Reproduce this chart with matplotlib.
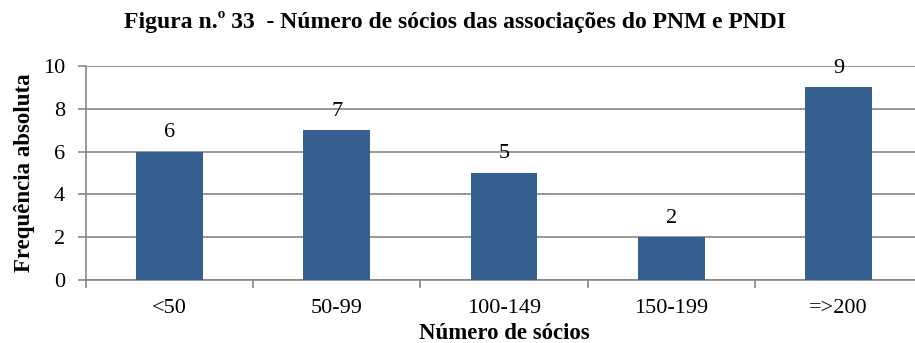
import numpy as np
import matplotlib.pyplot as plt
from matplotlib.ticker import FixedLocator, NullFormatter

categorias = ['<50', '50-99', '100-149', '150-199', '=>200']
frequencias = [6, 7, 5, 2, 9]
y_ticks = [0, 2, 4, 6, 8, 10]

plt.rcParams['font.family'] = 'serif'
plt.rcParams['font.serif'] = ['Liberation Serif', 'DejaVu Serif']

cor_barra = '#376092'
cor_grelha = '#868686'

fig = plt.figure(figsize=(9.15, 3.43), dpi=100)
ax = fig.add_axes([86 / 915, 1 - 280 / 343, 836 / 915, 214 / 343])

x = np.arange(len(categorias))
ax.bar(x, frequencias, width=0.4, color=cor_barra, zorder=3)

for xi, v in zip(x, frequencias):
    ax.text(xi, v + 0.45, str(v), ha='center', va='bottom', fontsize=16)

ax.set_xlim(-0.5, len(categorias) - 0.5)
ax.set_ylim(0, 10)
ax.set_yticks(y_ticks)
ax.yaxis.grid(True, color=cor_grelha, linewidth=1.2, zorder=0)
ax.tick_params(axis='y', labelsize=16, length=6, color=cor_grelha, width=1.2, pad=9)

# marcas do eixo x entre as categorias, rótulos no centro
ax.set_xticks(x)
ax.set_xticklabels(categorias, fontsize=16)
ax.tick_params(axis='x', which='major', length=0, pad=14)
ax.xaxis.set_minor_locator(FixedLocator(np.arange(-0.5, len(categorias), 1.0)))
ax.xaxis.set_minor_formatter(NullFormatter())
ax.tick_params(axis='x', which='minor', length=6, color=cor_grelha, width=1.2)

for s in ['top', 'right']:
    ax.spines[s].set_visible(False)
for s in ['left', 'bottom']:
    ax.spines[s].set_color(cor_grelha)
    ax.spines[s].set_linewidth(1.2)

ax.set_ylabel('Frequência absoluta', fontsize=16.5, fontweight='bold', labelpad=6)
ax.set_xlabel('Número de sócios', fontsize=16.5, fontweight='bold', labelpad=3)

fig.text(455 / 915, 1 - 22 / 343, 'Figura n.º 33  - Número de sócios das associações do PNM e PNDI',
         ha='center', va='center', fontsize=17, fontweight='bold')

fig.savefig('out.png', dpi=100)
